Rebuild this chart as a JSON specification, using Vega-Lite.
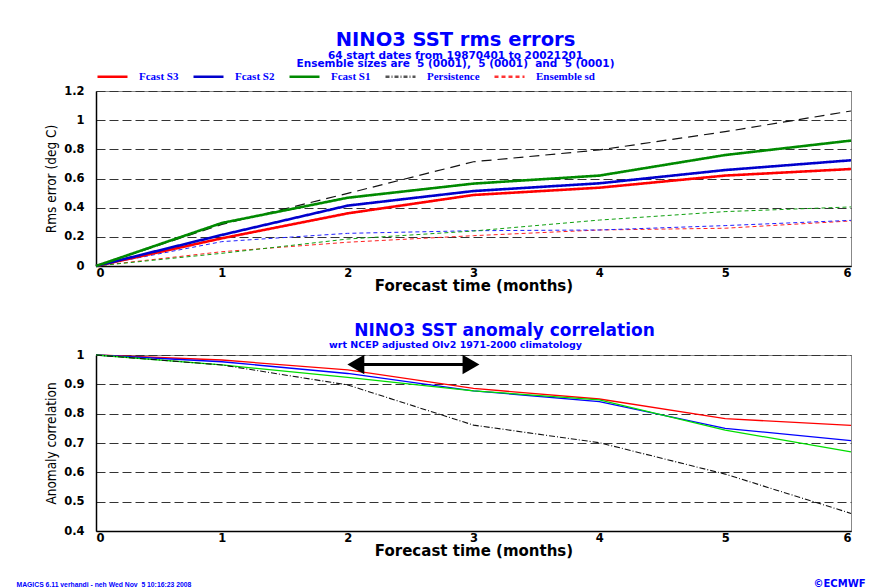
{
  "$schema": "https://vega.github.io/schema/vega-lite/v6.json",
  "padding": {"left": 15, "top": 29, "right": 4, "bottom": 2},
  "background": "white",
  "bounds": "flush",
  "spacing": 89,
  "datasets": {
    "rms": [
      {"series": "Fcast S3", "model": "S3", "month": 0, "value": 0},
      {"series": "Fcast S3", "model": "S3", "month": 1, "value": 0.19},
      {"series": "Fcast S3", "model": "S3", "month": 2, "value": 0.361},
      {"series": "Fcast S3", "model": "S3", "month": 3, "value": 0.487},
      {"series": "Fcast S3", "model": "S3", "month": 4, "value": 0.537},
      {"series": "Fcast S3", "model": "S3", "month": 5, "value": 0.62},
      {"series": "Fcast S3", "model": "S3", "month": 6, "value": 0.665},
      {"series": "Fcast S2", "model": "S2", "month": 0, "value": 0},
      {"series": "Fcast S2", "model": "S2", "month": 1, "value": 0.213},
      {"series": "Fcast S2", "model": "S2", "month": 2, "value": 0.414},
      {"series": "Fcast S2", "model": "S2", "month": 3, "value": 0.514},
      {"series": "Fcast S2", "model": "S2", "month": 4, "value": 0.567},
      {"series": "Fcast S2", "model": "S2", "month": 5, "value": 0.658},
      {"series": "Fcast S2", "model": "S2", "month": 6, "value": 0.725},
      {"series": "Fcast S1", "model": "S1", "month": 0, "value": 0},
      {"series": "Fcast S1", "model": "S1", "month": 1, "value": 0.295},
      {"series": "Fcast S1", "model": "S1", "month": 2, "value": 0.468},
      {"series": "Fcast S1", "model": "S1", "month": 3, "value": 0.565},
      {"series": "Fcast S1", "model": "S1", "month": 4, "value": 0.62},
      {"series": "Fcast S1", "model": "S1", "month": 5, "value": 0.761},
      {"series": "Fcast S1", "model": "S1", "month": 6, "value": 0.86},
      {"series": "Persistence", "model": "P", "month": 0, "value": 0},
      {"series": "Persistence", "model": "P", "month": 1, "value": 0.285},
      {"series": "Persistence", "model": "P", "month": 2, "value": 0.498},
      {"series": "Persistence", "model": "P", "month": 3, "value": 0.715},
      {"series": "Persistence", "model": "P", "month": 4, "value": 0.796},
      {"series": "Persistence", "model": "P", "month": 5, "value": 0.921},
      {"series": "Persistence", "model": "P", "month": 6, "value": 1.063},
      {"series": "Ensemble sd", "model": "S3", "month": 0, "value": 0},
      {"series": "Ensemble sd", "model": "S3", "month": 1, "value": 0.098},
      {"series": "Ensemble sd", "model": "S3", "month": 2, "value": 0.163},
      {"series": "Ensemble sd", "model": "S3", "month": 3, "value": 0.208},
      {"series": "Ensemble sd", "model": "S3", "month": 4, "value": 0.247},
      {"series": "Ensemble sd", "model": "S3", "month": 5, "value": 0.259},
      {"series": "Ensemble sd", "model": "S3", "month": 6, "value": 0.309},
      {"series": "Ensemble sd", "model": "S2", "month": 0, "value": 0},
      {"series": "Ensemble sd", "model": "S2", "month": 1, "value": 0.167},
      {"series": "Ensemble sd", "model": "S2", "month": 2, "value": 0.224},
      {"series": "Ensemble sd", "model": "S2", "month": 3, "value": 0.242},
      {"series": "Ensemble sd", "model": "S2", "month": 4, "value": 0.247},
      {"series": "Ensemble sd", "model": "S2", "month": 5, "value": 0.277},
      {"series": "Ensemble sd", "model": "S2", "month": 6, "value": 0.313},
      {"series": "Ensemble sd", "model": "S1", "month": 0, "value": 0},
      {"series": "Ensemble sd", "model": "S1", "month": 1, "value": 0.087},
      {"series": "Ensemble sd", "model": "S1", "month": 2, "value": 0.185},
      {"series": "Ensemble sd", "model": "S1", "month": 3, "value": 0.24},
      {"series": "Ensemble sd", "model": "S1", "month": 4, "value": 0.315},
      {"series": "Ensemble sd", "model": "S1", "month": 5, "value": 0.373},
      {"series": "Ensemble sd", "model": "S1", "month": 6, "value": 0.405}
    ],
    "acc": [
      {"series": "Fcast S3", "month": 0, "value": 1},
      {"series": "Fcast S3", "month": 1, "value": 0.983},
      {"series": "Fcast S3", "month": 2, "value": 0.949},
      {"series": "Fcast S3", "month": 3, "value": 0.886},
      {"series": "Fcast S3", "month": 4, "value": 0.85},
      {"series": "Fcast S3", "month": 5, "value": 0.783},
      {"series": "Fcast S3", "month": 6, "value": 0.76},
      {"series": "Fcast S2", "month": 0, "value": 1},
      {"series": "Fcast S2", "month": 1, "value": 0.977},
      {"series": "Fcast S2", "month": 2, "value": 0.937},
      {"series": "Fcast S2", "month": 3, "value": 0.878},
      {"series": "Fcast S2", "month": 4, "value": 0.841},
      {"series": "Fcast S2", "month": 5, "value": 0.75},
      {"series": "Fcast S2", "month": 6, "value": 0.708},
      {"series": "Fcast S1", "month": 0, "value": 1},
      {"series": "Fcast S1", "month": 1, "value": 0.966},
      {"series": "Fcast S1", "month": 2, "value": 0.924},
      {"series": "Fcast S1", "month": 3, "value": 0.878},
      {"series": "Fcast S1", "month": 4, "value": 0.847},
      {"series": "Fcast S1", "month": 5, "value": 0.744},
      {"series": "Fcast S1", "month": 6, "value": 0.67},
      {"series": "Persistence", "month": 0, "value": 1},
      {"series": "Persistence", "month": 1, "value": 0.966},
      {"series": "Persistence", "month": 2, "value": 0.898},
      {"series": "Persistence", "month": 3, "value": 0.761},
      {"series": "Persistence", "month": 4, "value": 0.701},
      {"series": "Persistence", "month": 5, "value": 0.594},
      {"series": "Persistence", "month": 6, "value": 0.46}
    ],
    "arrow": [
      {"from": 2.065, "to": 2.98, "level": 0.968}
    ]
  },
  "resolve": {"scale": {"color": "independent", "stroke": "independent", "strokeDash": "independent"}},
  "vconcat": [
    {
      "width": 755,
      "height": 175,
      "title": {
        "text": "NINO3 SST rms errors",
        "subtitle": ["64 start dates from 19870401 to 20021201", "Ensemble sizes are \u00a05 (0001), \u00a05 (0001) \u00a0and \u00a05 (0001)"],
        "anchor": "middle",
        "frame": "group",
        "dx": -18,
        "font": "DejaVu Sans",
        "fontSize": 19.5,
        "fontWeight": "bold",
        "color": "#0000ff",
        "subtitleFont": "DejaVu Sans",
        "subtitleFontSize": 10.5,
        "subtitleFontWeight": "bold",
        "subtitleColor": "#0000ff",
        "subtitlePadding": 0,
        "subtitleLineHeight": 8,
        "offset": -10
      },
      "data": {"name": "rms"},
      "encoding": {
        "x": {"field": "month", "type": "quantitative", "title": "Forecast time (months)", "scale": {"domain": [0, 6], "nice": false}, "axis": {"values": [0, 1, 2, 3, 4, 5, 6], "format": "d", "grid": false, "labelOverlap": false}},
        "y": {"field": "value", "type": "quantitative", "title": "Rms error (deg C)", "scale": {"domain": [0, 1.2], "nice": false}, "axis": {"values": [0, 0.2, 0.4, 0.6, 0.8, 1, 1.2], "format": "~f", "labelOverlap": false, "tickCount": 7}}
      },
      "layer": [
        {
          "transform": [{"filter": "datum.series === 'Ensemble sd'"}],
          "mark": {"type": "line", "strokeWidth": 1, "strokeDash": [4, 3]},
          "encoding": {
            "stroke": {"field": "model", "type": "nominal", "scale": {"domain": ["S3", "S2", "S1"], "range": ["#ff2020", "#2020ff", "#10a010"]}, "legend": null}
          }
        },
        {
          "transform": [{"filter": "datum.series === 'Persistence'"}],
          "mark": {"type": "line", "strokeWidth": 1.2, "strokeDash": [10, 6], "color": "#111111"}
        },
        {
          "transform": [{"filter": "indexof(datum.series, 'Fcast') === 0"}],
          "mark": {"type": "line", "strokeWidth": 2.6},
          "encoding": {
            "color": {
              "field": "series", "type": "nominal",
              "scale": {"domain": ["Fcast S3", "Fcast S2", "Fcast S1", "Persistence", "Ensemble sd"], "range": ["#ff0000", "#0000cc", "#008a00", "#555555", "#ff3333"]},
              "legend": {"title": null}
            },
            "strokeDash": {
              "field": "series", "type": "nominal",
              "scale": {"domain": ["Fcast S3", "Fcast S2", "Fcast S1", "Persistence", "Ensemble sd"], "range": [[1, 0], [1, 0], [1, 0], [4, 2, 1, 2], [4, 3]]},
              "legend": {"title": null}
            }
          }
        }
      ]
    },
    {
      "width": 755,
      "height": 176,
      "title": {
        "text": "NINO3 SST anomaly correlation",
        "anchor": "middle",
        "frame": "group",
        "dx": 31,
        "font": "DejaVu Sans",
        "fontSize": 17,
        "fontWeight": "bold",
        "color": "#0000ff",
        "offset": -1
      },
      "resolve": {"axis": {"x": "independent", "y": "independent"}},
      "layer": [
        {
          "data": {"name": "acc"},
          "transform": [{"filter": "datum.series !== 'Persistence'"}],
          "mark": {"type": "line", "strokeWidth": 1.3},
          "encoding": {
            "x": {"field": "month", "type": "quantitative", "title": "Forecast time (months)", "scale": {"domain": [0, 6], "nice": false}, "axis": {"values": [0, 1, 2, 3, 4, 5, 6], "format": "d", "grid": false, "labelOverlap": false}},
            "y": {"field": "value", "type": "quantitative", "title": "Anomaly correlation", "scale": {"domain": [0.4, 1], "nice": false, "zero": false}, "axis": {"values": [0.4, 0.5, 0.6, 0.7, 0.8, 0.9, 1], "format": "~f", "labelOverlap": false}},
            "color": {"field": "series", "type": "nominal", "scale": {"domain": ["Fcast S3", "Fcast S2", "Fcast S1"], "range": ["#ff0000", "#0000ff", "#00dd00"]}, "legend": null}
          }
        },
        {
          "data": {"name": "acc"},
          "transform": [{"filter": "datum.series === 'Persistence'"}],
          "mark": {"type": "line", "strokeWidth": 1.1, "strokeDash": [6, 2, 1, 2], "color": "#111111"},
          "encoding": {
            "x": {"field": "month", "type": "quantitative", "axis": {"orient": "bottom", "title": "©ECMWF", "labels": false, "domain": false, "ticks": false, "grid": false, "titleFont": "DejaVu Sans", "titleFontSize": 10, "titleFontWeight": "bold", "titleColor": "#0000ff", "titleX": 743, "titleY": 52, "titleAlign": "center", "titleBaseline": "middle"}},
            "y": {"field": "value", "type": "quantitative", "axis": {"orient": "left", "title": "MAGICS 6.11 verhandi - neh Wed Nov \u00a05 10:16:23 2008", "labels": false, "domain": false, "ticks": false, "grid": false, "titleAngle": 0, "titleFont": "Liberation Sans", "titleFontSize": 6.8, "titleFontWeight": "bold", "titleColor": "#0000ff", "titleX": -80, "titleY": 229, "titleAlign": "left", "titleBaseline": "middle"}}
          }
        },
        {
          "data": {"name": "arrow"},
          "mark": {"type": "rule", "strokeWidth": 3, "color": "black"},
          "encoding": {
            "x": {"field": "from", "type": "quantitative", "axis": {"orient": "top", "title": "wrt NCEP adjusted OIv2 1971-2000 climatology", "labels": false, "domain": false, "ticks": false, "grid": false, "titleFont": "DejaVu Sans", "titleFontSize": 9.5, "titleFontWeight": "bold", "titleColor": "#0000ff", "titleX": 359, "titleY": -11, "titleAlign": "center", "titleBaseline": "middle"}},
            "x2": {"field": "to"},
            "y": {"field": "level", "type": "quantitative", "axis": null}
          }
        },
        {
          "data": {"name": "arrow"},
          "mark": {"type": "point", "shape": "triangle-left", "filled": true, "color": "black", "opacity": 1, "size": 380},
          "encoding": {
            "x": {"field": "from", "type": "quantitative", "axis": null},
            "y": {"field": "level", "type": "quantitative", "axis": null}
          }
        },
        {
          "data": {"name": "arrow"},
          "mark": {"type": "point", "shape": "triangle-right", "filled": true, "color": "black", "opacity": 1, "size": 380},
          "encoding": {
            "x": {"field": "to", "type": "quantitative", "axis": null},
            "y": {"field": "level", "type": "quantitative", "axis": null}
          }
        }
      ]
    }
  ],
  "config": {
    "view": {"stroke": "#888888", "strokeWidth": 1},
    "axis": {
      "labelFont": "DejaVu Sans", "labelFontWeight": "bold", "labelFontSize": 11.5, "labelColor": "black",
      "titleFont": "DejaVu Sans", "titleFontWeight": "bold", "titleFontSize": 15, "titleColor": "black",
      "domainColor": "black", "domainWidth": 1.5, "ticks": false,
      "gridColor": "#333333", "gridDash": [9, 4], "gridWidth": 1, "gridOpacity": 1
    },
    "axisX": {"labelPadding": 1, "titlePadding": 0},
    "axisY": {"labelPadding": 12, "titleFont": "Liberation Sans Narrow, DejaVu Sans Condensed, Liberation Sans", "titleFontWeight": "normal", "titleFontSize": 13.5, "titlePadding": 5},
    "legend": {
      "orient": "top", "direction": "horizontal", "symbolType": "stroke", "symbolSize": 900, "symbolStrokeWidth": 2.5,
      "labelFont": "Liberation Serif", "labelFontWeight": "bold", "labelFontSize": 11, "labelColor": "#0000ff",
      "labelOffset": 10, "columnPadding": 9, "offset": 9, "padding": 0
    }
  }
}
